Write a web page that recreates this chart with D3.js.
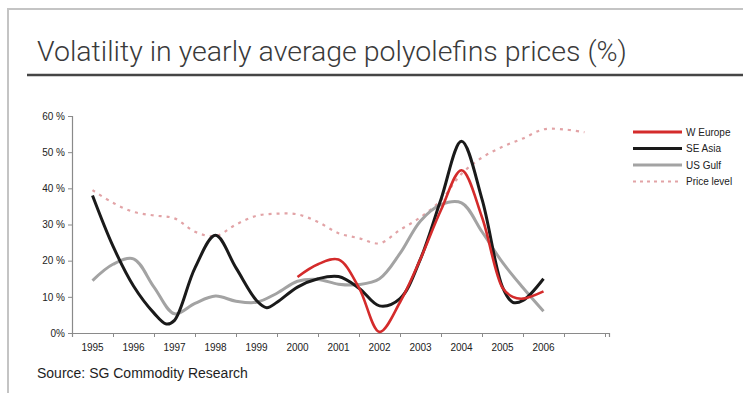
<!DOCTYPE html>
<html>
<head>
<meta charset="utf-8">
<script src="https://cdn.jsdelivr.net/npm/d3@7"></script>
<style>
  body { margin: 0; background: #fff; }
  svg { display: block; }
</style>
</head>
<body>
<div id="chart"></div>
<script>
// Chart values (half-yearly points, smoothed)
const years = ["1995", "1996", "1997", "1998", "1999", "2000", "2001", "2002", "2003", "2004", "2005", "2006", ""];
const yTicks = [0, 10, 20, 30, 40, 50, 60];

const seAsiaX = [1995, 1995.5, 1996, 1996.5, 1996.8, 1997, 1997.5, 1998, 1998.5, 1999, 1999.25, 1999.5, 2000, 2000.5, 2001, 2001.5, 2002, 2002.5, 2003, 2003.5, 2004, 2004.5, 2005, 2005.25, 2005.5, 2006];
const seAsiaY = [38, 24, 13, 5.5, 2.5, 3.5, 18, 27, 18, 9, 7, 8.5, 12.7, 15, 15.6, 12.4, 7.5, 9.5, 20.5, 37, 53, 37, 12.7, 8.5, 9, 15];

const wEuropeX = [2000, 2000.5, 2001, 2001.5, 2002, 2002.5, 2003, 2003.5, 2004, 2004.5, 2005, 2005.25, 2005.5, 2006];
const wEuropeY = [15.5, 19, 20.3, 12.5, 0.3, 8.5, 20.5, 34, 45, 32, 12.5, 10, 9.5, 11.5];

const usGulfX = [1995, 1995.5, 1996, 1996.5, 1997, 1997.5, 1998, 1998.5, 1999, 1999.5, 2000, 2000.5, 2001, 2001.5, 2002, 2002.5, 2003, 2003.5, 2004, 2004.5, 2005, 2005.5, 2006];
const usGulfY = [14.5, 19, 20.5, 12.7, 5.3, 8.2, 10.2, 8.8, 8.5, 11, 14.3, 14.8, 13.5, 13.4, 15, 22, 31, 35.5, 36, 28, 19.5, 12.5, 6];

const priceX = [1995, 1995.5, 1996, 1996.5, 1997, 1997.5, 1998, 1998.5, 1999, 1999.5, 2000, 2000.5, 2001, 2001.5, 2002, 2002.5, 2003, 2003.5, 2004, 2004.5, 2005, 2005.5, 2006, 2006.5, 2007];
const priceY = [39.5, 36, 33.5, 32.5, 31.7, 28, 26.8, 30, 32.4, 33, 32.8, 30.7, 27.6, 26.2, 24.8, 28.5, 32, 36.7, 44, 48.5, 51.5, 53.8, 56.3, 56.3, 55.5];

const legendLabels = ["W Europe", "SE Asia", "US Gulf", "Price level"];
const legendColors = ["#d42b2b", "#1a1a1a", "#a3a3a3", "#e2a3a6"];

const width = 743, height = 393;
const margin = {left: 72, right: 138, top: 116, bottom: 60};

const svg = d3.select("#chart").append("svg")
    .attr("width", width)
    .attr("height", height);

// frame
svg.append("path")
    .attr("d", "M8,393 V9 H743")
    .attr("fill", "none")
    .attr("stroke", "#c4c4c4")
    .attr("stroke-width", 2);

// title and rule
svg.append("text")
    .attr("x", 37)
    .attr("y", 61)
    .attr("font-family", "Roboto, 'Liberation Sans', sans-serif")
    .attr("font-weight", 300)
    .attr("font-size", 28.5)
    .attr("fill", "#3a3a3a")
    .text("Volatility in yearly average polyolefins prices (%)");

svg.append("line")
    .attr("x1", 27).attr("x2", 743)
    .attr("y1", 75).attr("y2", 75)
    .attr("stroke", "#454545")
    .attr("stroke-width", 2.5);

// scales
const band = d3.scaleBand()
    .domain(years.map((d, i) => i))
    .range([margin.left, 605]);

const x = d3.scaleLinear()
    .domain([1995, 2007])
    .range([band(0) + band.bandwidth() / 2, band(12) + band.bandwidth() / 2]);

const y = d3.scaleLinear()
    .domain([0, 60])
    .range([333, 116]);

const tickFont = "'Liberation Sans Narrow', 'Arial Narrow', 'Liberation Sans', sans-serif";

// y axis
const yAxis = svg.append("g")
    .attr("transform", `translate(${margin.left},0)`)
    .call(d3.axisLeft(y).tickValues(yTicks).tickSize(4).tickPadding(3)
        .tickFormat(d => d === 0 ? "0%" : d + " %"));

// x axis: ticks between the year labels
const boundaries = d3.range(years.length + 1).map(i => margin.left + i * band.bandwidth());
const xAxis = svg.append("g")
    .attr("transform", `translate(0,${y(0)})`)
    .call(d3.axisBottom(d3.scaleIdentity().domain([margin.left, 609]).range([margin.left, 609]))
        .tickValues(boundaries).tickSize(4).tickFormat(""));

svg.append("g")
    .selectAll("text")
    .data(years)
    .enter()
    .append("text")
    .attr("x", (d, i) => band(i) + band.bandwidth() / 2)
    .attr("y", y(0) + 18)
    .attr("text-anchor", "middle")
    .attr("font-family", tickFont)
    .attr("font-size", 10)
    .attr("fill", "#222")
    .text(d => d);

[yAxis, xAxis].forEach(g => {
    g.select(".domain").attr("stroke", "#8a8a8a").attr("stroke-width", 1.2);
    g.selectAll(".tick line").attr("stroke", "#8a8a8a");
    g.selectAll(".tick text")
        .attr("font-family", tickFont)
        .attr("font-size", 10)
        .attr("fill", "#222");
});

// lines
const line = d3.line()
    .x(d => x(d[0]))
    .y(d => y(d[1]))
    .curve(d3.curveCatmullRom.alpha(0.5));

const zip = (xs, ys) => xs.map((v, i) => [v, ys[i]]);

svg.append("path")
    .datum(zip(priceX, priceY))
    .attr("d", line)
    .attr("fill", "none")
    .attr("stroke", legendColors[3])
    .attr("stroke-width", 2.2)
    .attr("stroke-dasharray", "3,5");

svg.append("path")
    .datum(zip(usGulfX, usGulfY))
    .attr("d", line)
    .attr("fill", "none")
    .attr("stroke", legendColors[2])
    .attr("stroke-width", 3);

svg.append("path")
    .datum(zip(seAsiaX, seAsiaY))
    .attr("d", line)
    .attr("fill", "none")
    .attr("stroke", legendColors[1])
    .attr("stroke-width", 3);

svg.append("path")
    .datum(zip(wEuropeX, wEuropeY))
    .attr("d", line)
    .attr("fill", "none")
    .attr("stroke", legendColors[0])
    .attr("stroke-width", 2.6);

// legend
const legend = svg.append("g")
    .selectAll("g")
    .data(legendLabels)
    .enter()
    .append("g")
    .attr("transform", (d, i) => `translate(633,${132 + i * 16.5})`);

legend.append("line")
    .attr("x1", 0).attr("x2", 49)
    .attr("stroke", (d, i) => legendColors[i])
    .attr("stroke-width", (d, i) => i === 3 ? 2 : 3)
    .attr("stroke-dasharray", (d, i) => i === 3 ? "3,4" : null);

legend.append("text")
    .attr("x", 53)
    .attr("y", 3.5)
    .attr("font-family", tickFont)
    .attr("font-size", 10)
    .attr("fill", "#222")
    .text(d => d);

// source
svg.append("text")
    .attr("x", 37)
    .attr("y", 378)
    .attr("font-family", "'Liberation Sans', Arial, sans-serif")
    .attr("font-size", 14)
    .attr("fill", "#1e1e1e")
    .text("Source: SG Commodity Research");
</script>
</body>
</html>
